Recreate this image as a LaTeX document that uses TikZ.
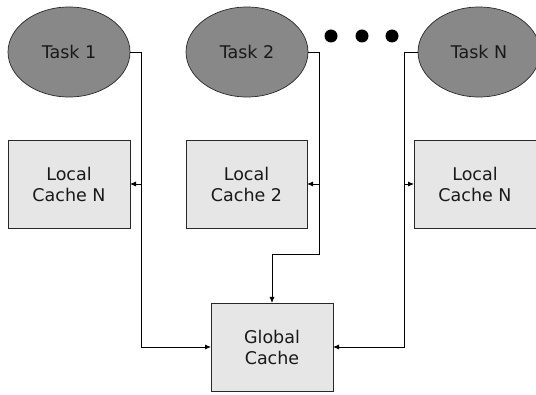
\documentclass[tikz,border=0pt]{standalone}
\usepackage{fontspec}
\setmainfont{DejaVu Sans}
\usetikzlibrary{arrows.meta,shapes.geometric}
\definecolor{taskgray}{RGB}{136,136,136}
\definecolor{boxgray}{RGB}{230,230,230}
\definecolor{edgegray}{RGB}{40,40,40}
\begin{document}
\begin{tikzpicture}[x=1pt,y=-1pt,
  every node/.style={font=\fontsize{17.5}{21}\selectfont, text=black!90, align=center, inner sep=0pt, outer sep=0pt},
  task/.style={ellipse, draw=edgegray, line width=0.7pt, fill=taskgray, minimum width=122pt, minimum height=90pt},
  cachebox/.style={rectangle, draw=edgegray, line width=0.8pt, fill=boxgray, minimum width=122pt, minimum height=88pt},
  link/.style={draw=black, line width=0.8pt},
  arr/.style={link, -{Latex[length=6pt,width=5pt]}},
  dot/.style={circle, fill=black, minimum size=13pt}
]
\useasboundingbox (0,0) rectangle (536,395);
\node[task] (t1) at (69,52) {Task 1};
\node[task] (t2) at (247,52) {Task 2};
\node[task] (tn) at (479,52) {Task N};
\node[dot] (d1) at (331,36) {};
\node[dot] (d2) at (362,36) {};
\node[dot] (d3) at (392,36) {};
\node[cachebox, minimum width=122pt] (c1) at (69,184) {Local\\Cache N};
\node[cachebox, minimum width=121pt] (c2) at (246.5,184) {Local\\Cache 2};
\node[cachebox, minimum width=122pt] (cn) at (475,184) {Local\\Cache N};
\node[cachebox, minimum width=122pt] (g) at (272,347) {Global\\Cache};
\coordinate (j1) at (141,52);
\coordinate (b1) at (141,184);
\coordinate (j2) at (319,52);
\coordinate (b2) at (319,184);
\coordinate (k2) at (319,254);
\coordinate (jn) at (404,52);
\coordinate (bn) at (404,184);
\draw[arr] (t1.east) -- (j1) |- (g.west);
\draw[arr] (b1) -- (c1.east);
\draw[arr] (t2.east) -- (j2) -- (k2) -| (g.north);
\draw[arr] (b2) -- (c2.east);
\draw[arr] (tn.west) -- (jn) |- (g.east);
\draw[arr] (bn) -- (cn.west);
\end{tikzpicture}
\end{document}
